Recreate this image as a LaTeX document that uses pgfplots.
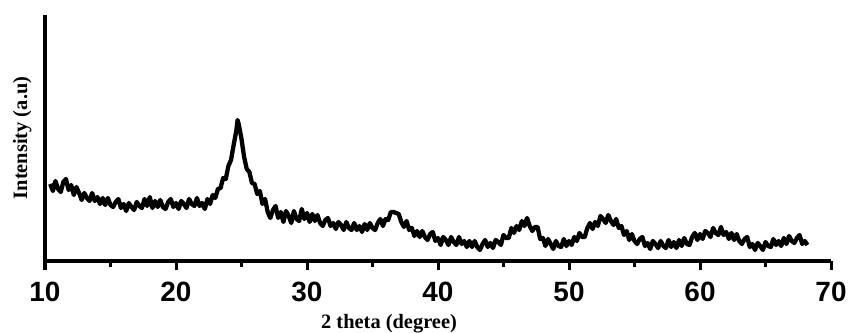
\documentclass[border=0pt]{standalone}
\usepackage{fontspec}
\setmainfont{Liberation Serif}
\newfontfamily\ticksans{Liberation Sans}
\usepackage{pgfplots}
\pgfplotsset{compat=1.18}
\begin{document}
\begin{tikzpicture}
\path[use as bounding box] (0,0) rectangle (848bp,333bp);
\begin{axis}[
  at={(45bp,72bp)}, anchor=south west,
  scale only axis, width=786bp, height=246bp,
  xmin=10, xmax=70, ymin=0, ymax=246,
  axis lines=left,
  axis line style={-, line width=3bp, black},
  xtick={10,20,...,70},
  minor xtick={15,25,...,65},
  ytick=\empty,
  xtick align=outside,
  tick style={line width=3bp, black},
  major tick length=9bp, minor tick length=6bp,
  xticklabel style={font=\fontsize{28}{28}\selectfont\ticksans\bfseries, inner sep=0pt, yshift=-12bp},
  /pgf/number format/assume math mode=true,
  xlabel={\textbf{2 theta (degree)}},
  ylabel={\textbf{Intensity (a.u)}},
  every axis x label/.style={at={(axis description cs:0.4377,-0.2764)}, anchor=base, font=\fontsize{20.5}{20.5}\selectfont},
  every axis y label/.style={at={(axis description cs:-0.029,0.5)}, rotate=90, anchor=center, font=\fontsize{20.5}{20.5}\selectfont},
  clip=false,
]
\addplot[black, line width=4.3bp, line join=round] coordinates {
(10.4,77) (10.6,70) (10.8,80) (11.0,72) (11.2,69) (11.4,79) (11.6,82) (11.8,71) (12.0,76) (12.2,66)
(12.4,74) (12.6,68) (12.8,61) (13.0,68) (13.2,63) (13.4,60) (13.6,68) (13.8,60) (14.0,64) (14.2,57)
(14.4,63) (14.6,56) (14.8,63) (15.0,56) (15.2,54) (15.4,59) (15.6,62) (15.8,53) (16.0,57) (16.2,50)
(16.4,58) (16.6,54) (16.8,51) (17.0,59) (17.2,55) (17.4,53) (17.6,62) (17.8,55) (18.0,64) (18.2,53)
(18.4,60) (18.6,54) (18.8,61) (19.0,54) (19.2,52) (19.4,59) (19.6,62) (19.8,54) (20.0,58) (20.2,52)
(20.4,60) (20.6,57) (20.8,53) (21.0,62) (21.2,57) (21.4,55) (21.6,63) (21.8,55) (22.0,58) (22.2,52)
(22.4,62) (22.6,57) (22.8,66) (23.0,63) (23.2,72) (23.4,73) (23.6,83) (23.8,82) (24.0,95) (24.2,101)
(24.4,116) (24.6,130) (24.7,141) (24.8,136) (25.0,122) (25.2,104) (25.4,92) (25.6,89) (25.8,78) (26.0,77)
(26.2,67) (26.4,70) (26.6,57) (26.8,62) (27.0,49) (27.2,43) (27.4,51) (27.6,55) (27.8,43) (28.0,49)
(28.2,39) (28.4,50) (28.6,45) (28.8,38) (29.0,50) (29.2,42) (29.4,40) (29.6,52) (29.8,42) (30.0,48)
(30.2,39) (30.4,47) (30.6,40) (30.8,46) (31.0,38) (31.2,35) (31.4,41) (31.6,43) (31.8,35) (32.0,38)
(32.2,32) (32.4,39) (32.6,36) (32.8,31) (33.0,39) (33.2,33) (33.4,31) (33.6,38) (33.8,31) (34.0,35)
(34.2,29) (34.4,37) (34.6,31) (34.8,38) (35.0,33) (35.2,31) (35.4,38) (35.6,42) (35.8,35) (36.0,42)
(36.2,41) (36.4,49) (36.6,49) (36.8,48) (37.0,47) (37.2,39) (37.4,34) (37.6,40) (37.8,31) (38.0,33)
(38.2,25) (38.4,30) (38.6,24) (38.8,30) (39.0,24) (39.2,21) (39.4,27) (39.6,29) (39.8,20) (40.0,23)
(40.2,16) (40.4,24) (40.6,21) (40.8,16) (41.0,24) (41.2,19) (41.4,16) (41.6,24) (41.8,17) (42.0,20)
(42.2,14) (42.4,20) (42.6,14) (42.8,20) (43.0,14) (43.2,11) (43.4,17) (43.6,21) (43.8,14) (44.0,18)
(44.2,13) (44.4,21) (44.6,19) (44.8,16) (45.0,26) (45.2,23) (45.4,23) (45.6,33) (45.8,28) (46.0,35)
(46.2,31) (46.4,40) (46.6,35) (46.8,43) (47.0,35) (47.2,30) (47.4,34) (47.6,34) (47.8,22) (48.0,23)
(48.2,15) (48.4,22) (48.6,17) (48.8,12) (49.0,20) (49.2,15) (49.4,14) (49.6,22) (49.8,15) (50.0,20)
(50.2,16) (50.4,24) (50.6,20) (50.8,28) (51.0,24) (51.2,24) (51.4,33) (51.6,38) (51.8,32) (52.0,39)
(52.2,35) (52.4,45) (52.6,42) (52.8,38) (53.0,46) (53.2,40) (53.4,36) (53.6,42) (53.8,33) (54.0,35)
(54.2,26) (54.4,30) (54.6,21) (54.8,27) (55.0,20) (55.2,17) (55.4,22) (55.6,24) (55.8,15) (56.0,18)
(56.2,12) (56.4,20) (56.6,17) (56.8,13) (57.0,20) (57.2,15) (57.4,13) (57.6,21) (57.8,14) (58.0,19)
(58.2,13) (58.4,21) (58.6,15) (58.8,23) (59.0,17) (59.2,16) (59.4,24) (59.6,28) (59.8,21) (60.0,27)
(60.2,22) (60.4,30) (60.6,28) (60.8,24) (61.0,33) (61.2,28) (61.4,26) (61.6,34) (61.8,26) (62.0,29)
(62.2,22) (62.4,28) (62.6,21) (62.8,27) (63.0,20) (63.2,17) (63.4,22) (63.6,24) (63.8,14) (64.0,17)
(64.2,11) (64.4,18) (64.6,15) (64.8,11) (65.0,19) (65.2,15) (65.4,14) (65.6,22) (65.8,16) (66.0,20)
(66.2,15) (66.4,23) (66.6,17) (66.8,25) (67.0,20) (67.2,18) (67.4,23) (67.6,26) (67.8,17) (68.0,20)
(68.2,16)
};
\end{axis}
\end{tikzpicture}
\end{document}
